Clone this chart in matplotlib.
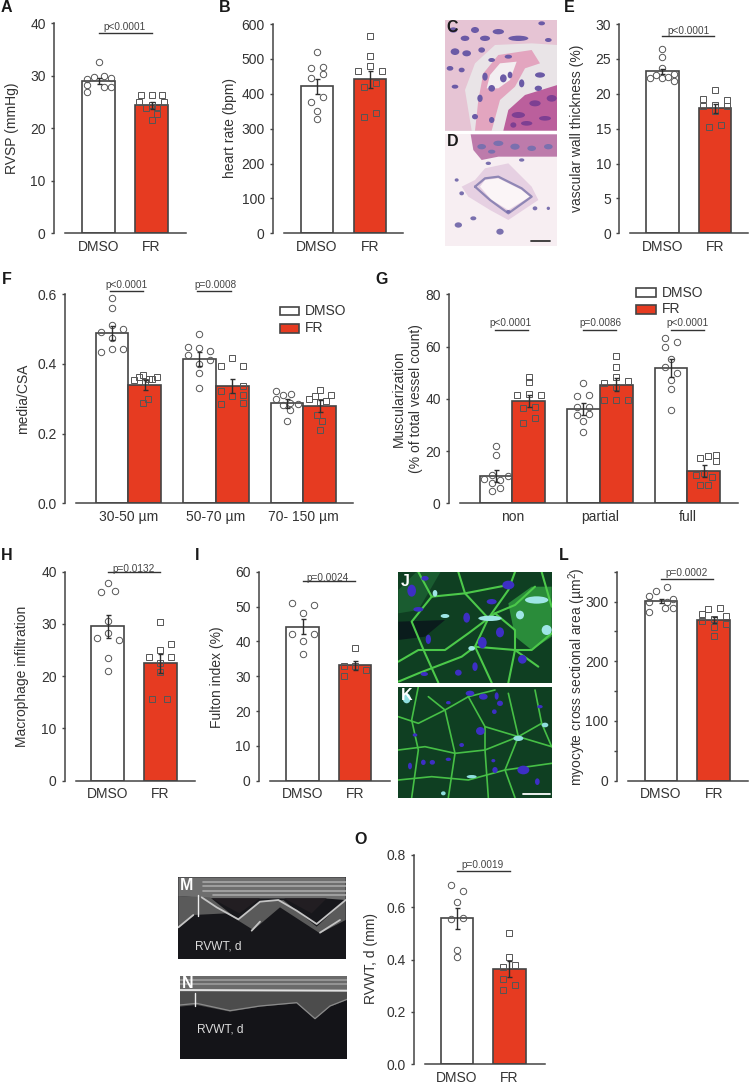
import numpy as np
import matplotlib
matplotlib.use("Agg")
from matplotlib import pyplot as plt
from matplotlib.patches import Rectangle, Ellipse, Polygon

plt.rcParams['font.family'] = ['Liberation Sans', 'DejaVu Sans']
plt.rcParams['mathtext.default'] = 'regular'

W, H = 750, 1082
RED = '#e63b21'
LINE = '#444444'
TXT = '#333333'

# panel A
a_means = [29.0, 24.4]
a_errs = [0.5, 0.7]
a_dmso = [32.6, 29.4, 29.7, 30.0, 29.5, 28.3, 27.8, 27.8, 27.0]
a_dmso_dx = [0, -12, -5, 5, 12, -12, 5, 12, -12]
a_fr = [26.4, 26.4, 26.3, 25.0, 25.0, 24.4, 24.1, 23.8, 22.8, 21.5]
a_fr_dx = [-11, 0, 10, -13, 12, 0, 5, -6, 5, 0]
# panel B
b_means = [421, 441]
b_errs = [22, 25]
b_dmso = [519, 475, 477, 456, 446, 390, 375, 350, 327]
b_dmso_dx = [0, -6, 6, 6, -6, 6, -6, 0, 0]
b_fr = [567, 509, 479, 464, 466, 418, 430, 332, 344]
b_fr_dx = [0, 0, 0, -12, 12, -6, 6, -6, 6]
# panel E
e_means = [23.2, 17.9]
e_errs = [0.4, 0.6]
e_dmso = [26.4, 25.2, 23.7, 22.2, 22.7, 22.3, 22.4, 22.9, 21.8]
e_dmso_dx = [0, 0, 0, -12, -6, 0, 6, 12, 12]
e_fr = [20.6, 19.3, 19.1, 18.4, 18.2, 18.2, 17.6, 15.5, 15.3]
e_fr_dx = [0, -12, 12, 0, -12, 12, 0, 6, -6]
# panel F
f_names = ['30-50 µm', '50-70 µm', '70- 150 µm']
f_dmso_means = [0.49, 0.415, 0.287]
f_dmso_errs = [0.02, 0.02, 0.012]
f_fr_means = [0.34, 0.336, 0.279]
f_fr_errs = [0.015, 0.02, 0.018]
f_dmso = [[.589, .562, .512, .491, .5, .474, .433, .444, .443],
          [.486, .449, .446, .438, .425, .411, .399, .374, .332],
          [.322, .312, .314, .3, .282, .286, .267, .237, .289]]
f_dmso_dx = [[0, 0, 0, -11, 11, 0, -11, 0, 11],
             [0, -11, 0, 11, -11, 11, 0, 0, 0],
             [-11, -4, 4, -11, -4, 11, 3, 0, 3]]
f_fr = [[.355, .364, .367, .356, .358, .362, .300, .287, .349],
        [.417, .395, .395, .337, .322, .307, .311, .284, .288],
        [.3, .308, .326, .311, .294, .253, .237, .209, .292]]
f_fr_dx = [[-11, -6, -2, 4, 7, 12, 3, -2, 0],
           [0, -11, 11, 11, -11, 0, 11, -11, 11],
           [-11, -5, 0, 11, 6, -3, 2, 0, 0]]
# panel G
g_names = ['non', 'partial', 'full']
g_dmso_means = [10.6, 36.2, 51.8]
g_dmso_errs = [2.3, 2.3, 3.3]
g_fr_means = [39.2, 45.4, 12.4]
g_fr_errs = [2.2, 2.4, 2.2]
g_dmso = [[22, 18.3, 9.4, 10.7, 10.3, 8.8, 7.8, 5.7, 4.7],
          [46.2, 40.9, 41.5, 36.7, 36.7, 33.9, 34, 31.6, 27.4],
          [63.2, 61.9, 59.7, 55.2, 52, 49.8, 47.1, 43.7, 35.9]]
g_dmso_dx = [[0, 0, -12, -4, 12, 4, -4, 4, -4],
             [0, -6, 6, -6, 6, -6, 6, 0, 0],
             [-6, 6, -6, 0, -6, 6, 0, 0, 0]]
g_fr = [[48.5, 46.4, 41.5, 41.8, 41.5, 36.3, 36.7, 32.5, 30.6],
        [56.2, 52, 48.2, 46.2, 47, 44.6, 39.4, 39.7, 39.4],
        [17.2, 18.2, 18.5, 16.1, 10.8, 11.5, 9.9, 7.1, 7.1]]
g_fr_dx = [[0, 0, -12, 0, 12, -6, 6, 6, -6],
           [0, 0, 0, -12, 12, 0, -12, 0, 12],
           [-4, 4, 12, 12, -8, 0, 8, -4, 4]]
# panel H
h_means = [29.6, 22.5]
h_errs = [2.2, 1.8]
h_dmso = [37.8, 36.2, 36.3, 30.5, 28.3, 27.3, 27, 23.5, 20.9]
h_dmso_dx = [0, -7, 7, 0, 0, -11, 11, 0, 0]
h_fr = [30.3, 26.2, 25.1, 23.7, 23.7, 22.6, 20.8, 15.6, 15.6]
h_fr_dx = [0, 11, 0, -11, 11, 0, 0, -8, 7]
# panel I
i_means = [44.2, 33.2]
i_errs = [2.2, 1.3]
i_dmso = [50.9, 50.4, 48.2, 42, 42, 40.2, 36.4]
i_dmso_dx = [-11, 11, 0, -11, 11, 0, 0]
i_fr = [38, 33, 33, 31.7, 30.2]
i_fr_dx = [0, -11, 0, 11, -11]
# panel L
l_means = [301, 269]
l_errs = [4, 5]
l_dmso = [324, 318, 309, 304, 299, 300, 290, 290, 283]
l_dmso_dx = [6, -5, -12, 12, -12, 6, 4, 12, -12]
l_fr = [288, 290, 279, 275, 267, 271, 262, 257, 242]
l_fr_dx = [-6, 6, -12, 12, -12, 0, 12, 0, 0]
# panel O
o_means = [0.559, 0.364]
o_errs = [0.04, 0.03]
o_dmso = [.686, .664, .622, .555, .559, .437, .409]
o_dmso_dx = [-6, 6, 0, -6, 6, 0, 0]
o_fr = [.501, .41, .381, .371, .325, .302, .284]
o_fr_dx = [0, 0, 6, -6, -6, 6, -6]

two_names = ['DMSO', 'FR']

fig = plt.figure(figsize=(W / 100, H / 100), dpi=100)
bg = fig.add_axes([0, 0, 1, 1])
bg.set_xlim(0, W)
bg.set_ylim(H, 0)
bg.axis('off')


def new_axes(box, ymax, ticks, labels, c0, spacing, names, gap=11, pad=4.5):
    x0, x1, y_top, y_zero = box
    ax = fig.add_axes([x0 / W, 1 - y_zero / H, (x1 - x0) / W, (y_zero - y_top) / H])
    ax.patch.set_visible(False)
    ax.set_xlim((x0 - c0) / spacing, (x1 - c0) / spacing)
    ax.set_ylim(0, ymax)
    for s in ['top', 'right']:
        ax.spines[s].set_visible(False)
    for s in ['left', 'bottom']:
        ax.spines[s].set_color(LINE)
        ax.spines[s].set_linewidth(1.1)
    ax.spines['bottom'].set_bounds((x0 + gap - c0) / spacing, (x1 - c0) / spacing)
    ax.set_yticks(ticks)
    ax.set_yticklabels(labels, fontsize=10, color=TXT)
    ax.tick_params(axis='y', length=2.5, width=1.0, color=LINE, pad=3.5)
    ax.set_xticks(np.arange(len(names)))
    ax.set_xticklabels(names, fontsize=10, color=TXT)
    ax.tick_params(axis='x', length=0, pad=pad)
    return ax


def draw_bar(ax, x, mean, err, pts, dx, color, marker, width, spacing):
    ax.bar(x, mean, width=width / spacing, color=color, edgecolor=LINE, linewidth=1.2, zorder=2)
    ax.plot(x + np.array(dx) / spacing, pts, linestyle='none', marker=marker,
            ms=4.6 if marker == 'o' else 4.3, mfc='none', mec='#555555', mew=0.7,
            clip_on=False, zorder=3)
    ax.errorbar(x, mean, yerr=err, color='#2e2e2e', elinewidth=1.0, capsize=1.8,
                capthick=1.0, zorder=4)


def pair_panel(box, ymax, ticks, labels, c0, spacing, means, errs, d, d_dx, f, f_dx):
    ax = new_axes(box, ymax, ticks, labels, c0, spacing, two_names)
    draw_bar(ax, 0, means[0], errs[0], d, d_dx, 'white', 'o', 32.7, spacing)
    draw_bar(ax, 1, means[1], errs[1], f, f_dx, RED, 's', 32.7, spacing)
    return ax


def group_panel(box, ymax, ticks, labels, c0, spacing, names, dm, de, fm, fe, d, d_dx, f, f_dx):
    ax = new_axes(box, ymax, ticks, labels, c0, spacing, names)
    off = 16.4 / spacing
    for k in range(len(names)):
        draw_bar(ax, k - off, dm[k], de[k], d[k], d_dx[k], 'white', 'o', 32.7, spacing)
        draw_bar(ax, k + off, fm[k], fe[k], f[k], f_dx[k], RED, 's', 32.7, spacing)
    return ax


def bracket(ax, x0, x1, y, text, tx, ty):
    ax.plot([x0, x1], [y, y], color='#333333', lw=1.0, clip_on=False, zorder=5)
    fig.text(tx / W, 1 - ty / H, text, fontsize=7.2, color='#444444', ha='center', va='center')


def label(x, y, text, rot=90, size=10, color=TXT, weight='normal', ha='center'):
    fig.text(x / W, 1 - y / H, text, fontsize=size, color=color, rotation=rot,
             ha=ha, va='center', fontweight=weight, zorder=10)


def letter(x, y, text, color='#1a1a1a'):
    label(x, y, text, rot=0, size=11.5, color=color, weight='bold', ha='left')


def photo(x0, x1, y0, y1, bgcolor, ox, oy):
    # shapes inside use zoomed crop pixels, 3x from crop origin ox, oy
    ax = fig.add_axes([x0 / W, 1 - y1 / H, (x1 - x0) / W, (y1 - y0) / H])
    ax.set_xlim((x0 - ox) * 3, (x1 - ox) * 3)
    ax.set_ylim((y1 - oy) * 3, (y0 - oy) * 3)
    ax.set_xticks([])
    ax.set_yticks([])
    for s in ax.spines.values():
        s.set_visible(False)
    ax.set_facecolor(bgcolor)
    return ax


def blobs(ax, items, color, zorder=3):
    for cx, cy, w, h in items:
        ax.add_patch(Ellipse((cx, cy), w, h, fc=color, ec='none', zorder=zorder))


def polylines(ax, lines, color, lw, zorder=2):
    for ln in lines:
        xy = np.array(ln)
        ax.plot(xy[:, 0], xy[:, 1], color=color, lw=lw, solid_capstyle='round', zorder=zorder)


def shape(ax, pts, color, zorder=1):
    ax.add_patch(Polygon(pts, fc=color, ec='none', zorder=zorder))


# bar panels
ax = pair_panel((54, 186, 23.3, 233.3), 40, [0, 10, 20, 30, 40], ['0', '10', '20', '30', '40'],
                98.5, 53, a_means, a_errs, a_dmso, a_dmso_dx, a_fr, a_fr_dx)
bracket(ax, 0, 1, 38.1, 'p<0.0001', 125, 27.3)

ax = pair_panel((273, 403, 24, 233.3), 600, [0, 100, 200, 300, 400, 500, 600],
                ['0', '100', '200', '300', '400', '500', '600'],
                317, 53, b_means, b_errs, b_dmso, b_dmso_dx, b_fr, b_fr_dx)

ax = pair_panel((619.3, 748, 24, 233.3), 30, [0, 5, 10, 15, 20, 25, 30],
                ['0', '5', '10', '15', '20', '25', '30'],
                662.3, 52.7, e_means, e_errs, e_dmso, e_dmso_dx, e_fr, e_fr_dx)
bracket(ax, 0, 0.98, 28.3, 'p<0.0001', 688.3, 30.7)

ax = group_panel((65, 353, 294.3, 503.3), 0.6, [0, 0.2, 0.4, 0.6], ['0.0', '0.2', '0.4', '0.6'],
                 128.3, 87.5, f_names, f_dmso_means, f_dmso_errs, f_fr_means, f_fr_errs,
                 f_dmso, f_dmso_dx, f_fr, f_fr_dx)
bracket(ax, -0.21, 0.17, 0.6105, 'p<0.0001', 127, 284.7)
bracket(ax, 0.79, 1.17, 0.6105, 'p=0.0008', 215, 284.7)

ax = group_panel((449, 737.7, 294.3, 503.3), 80, [0, 20, 40, 60, 80], ['0', '20', '40', '60', '80'],
                 512.3, 87.5, g_names, g_dmso_means, g_dmso_errs, g_fr_means, g_fr_errs,
                 g_dmso, g_dmso_dx, g_fr, g_fr_dx)
bracket(ax, -0.2, 0.18, 66.2, 'p<0.0001', 511, 323.3)
bracket(ax, 0.81, 1.19, 66.2, 'p=0.0086', 600, 323.3)
bracket(ax, 1.81, 2.19, 66.2, 'p<0.0001', 687.7, 323.3)

ax = pair_panel((65, 195, 571.7, 780.7), 40, [0, 10, 20, 30, 40], ['0', '10', '20', '30', '40'],
                107.7, 52.7, h_means, h_errs, h_dmso, h_dmso_dx, h_fr, h_fr_dx)
bracket(ax, 0, 1, 39.9, 'p=0.0132', 133.7, 569.3)

ax = pair_panel((259, 390, 571.7, 780.7), 60, [0, 10, 20, 30, 40, 50, 60],
                ['0', '10', '20', '30', '40', '50', '60'],
                302.7, 52.3, i_means, i_errs, i_dmso, i_dmso_dx, i_fr, i_fr_dx)
bracket(ax, 0, 1, 57.2, 'p=0.0024', 328, 578.3)

ax = pair_panel((616.7, 747.7, 571.7, 780.7), 350, [0, 50, 100, 150, 200, 250, 300, 350],
                ['0', '', '100', '', '200', '', '300', ''],
                661, 52.7, l_means, l_errs, l_dmso, l_dmso_dx, l_fr, l_fr_dx)
bracket(ax, 0, 0.99, 338, 'p=0.0002', 686.7, 573)

ax = pair_panel((414, 545, 855, 1064.3), 0.8, [0, 0.2, 0.4, 0.6, 0.8], ['0.0', '0.2', '0.4', '0.6', '0.8'],
                457, 52.3, o_means, o_errs, o_dmso, o_dmso_dx, o_fr, o_fr_dx)
bracket(ax, 0, 1.01, 0.738, 'p=0.0019', 482.7, 865.3)

# y labels
label(11.7, 128, 'RVSP (mmHg)')
label(230, 128, 'heart rate (bpm)')
label(576.7, 128, 'vascular wall thickness (%)')
label(23, 399, 'media/CSA')
label(399, 399, 'Muscularization')
label(415.7, 399, '(% of total vessel count)')
label(21.7, 676.7, 'Macrophage infiltration')
label(216.7, 676.7, 'Fulton index (%)')
label(576.7, 676.7, 'myocyte cross sectional area (µm$^2$)')
label(370.7, 959, 'RVWT, d (mm)')

# legends
for lx, ly, name, col in [(279.5, 306.7, 'DMSO', 'white'), (279.5, 324, 'FR', RED),
                          (636, 288.3, 'DMSO', 'white'), (636, 305, 'FR', RED)]:
    bg.add_patch(Rectangle((lx, ly), 19.8, 8.6, fc=col, ec=LINE, lw=1.2))
    label(lx + 25.8, ly + 4.3, name, rot=0, ha='left')

# photo C, histology
p = photo(445, 557, 20, 131, '#e9e4e7', 375, 0)
shape(p, [(210, 60), (547, 60), (547, 135), (470, 130), (360, 135), (300, 190), (270, 270), (290, 392), (210, 392)], '#e6c4d4')
shape(p, [(300, 392), (310, 300), (325, 220), (370, 165), (470, 150), (495, 190), (450, 205), (420, 260), (375, 300), (350, 392)], '#e3a5bf')
shape(p, [(335, 265), (345, 225), (375, 190), (425, 185), (405, 240), (370, 265)], '#f3eef1', zorder=2)
shape(p, [(385, 392), (400, 330), (450, 285), (547, 255), (547, 392)], '#bb5f9c', zorder=2)
blobs(p, [(235, 90, 24, 16), (270, 115, 26, 16), (300, 90, 24, 18), (330, 115, 30, 16), (370, 95, 34, 16),
          (240, 155, 26, 20), (275, 160, 26, 18), (320, 150, 20, 16), (225, 205, 20, 14), (260, 210, 18, 14),
          (240, 260, 20, 12), (430, 115, 60, 16), (500, 70, 20, 12), (520, 120, 20, 12), (350, 180, 20, 12),
          (400, 170, 22, 12), (330, 230, 16, 24), (350, 265, 20, 20), (315, 295, 16, 22), (385, 235, 20, 24),
          (405, 225, 14, 20), (300, 350, 18, 16), (350, 360, 16, 18), (495, 225, 30, 16), (490, 265, 22, 16),
          (440, 250, 16, 24)], '#6b5aa6', zorder=3)
blobs(p, [(430, 345, 40, 18), (480, 310, 34, 18), (530, 295, 30, 20), (455, 370, 34, 14), (510, 355, 36, 14), (415, 375, 18, 16)],
      '#7d3f92', zorder=3)

# photo D
p = photo(445, 557, 134, 246, '#f7eef2', 375, 0)
shape(p, [(287, 403), (547, 403), (547, 470), (450, 470), (370, 470), (320, 480), (295, 450)], '#bd7bab')
shape(p, [(300, 540), (330, 505), (400, 490), (470, 560), (490, 600), (400, 660), (345, 630), (280, 590), (260, 560)], '#e6d0e2')
shape(p, [(315, 560), (330, 540), (370, 535), (440, 570), (465, 590), (400, 630), (350, 600)], '#fbf5f7', zorder=2)
polylines(p, [[(300, 560), (330, 535), (370, 530), (440, 565), (470, 590), (400, 640), (345, 600), (300, 560)]], '#8f86b5', 1.6)
blobs(p, [(320, 440, 26, 16), (370, 430, 30, 16), (420, 440, 28, 18), (470, 445, 26, 16), (520, 440, 26, 16), (350, 455, 22, 12),
          (340, 490, 16, 10), (440, 480, 16, 10), (260, 580, 14, 12), (245, 540, 12, 10), (480, 625, 14, 12),
          (295, 655, 18, 12), (250, 675, 22, 16), (375, 695, 22, 18), (520, 625, 10, 10), (400, 635, 14, 10)], '#7a70ae', zorder=3)
polylines(p, [[(468, 722), (525, 722)]], '#333333', 1.3, zorder=4)

# photo J, fluorescence
p = photo(398, 552, 572, 683, '#0f3f22', 375, 550)
shape(p, [(400, 160), (470, 110), (530, 110), (530, 260), (470, 300), (420, 260)], '#2a8c3a')
shape(p, [(70, 215), (210, 210), (150, 260), (70, 270)], '#0a1c1c')
shape(p, [(70, 120), (130, 60), (200, 60), (130, 180), (70, 190)], '#1a5c30')
j_lines = [[(70, 335), (130, 300), (210, 300), (280, 250), (360, 190), (420, 165), (480, 110)],
           [(130, 66), (170, 140), (110, 215), (150, 310), (190, 398)],
           [(250, 66), (270, 130), (340, 205), (300, 290), (350, 398)],
           [(70, 395), (130, 370), (260, 320), (300, 290), (420, 300), (490, 350)],
           [(420, 66), (400, 120), (340, 205)], [(170, 140), (270, 130), (400, 105)],
           [(420, 300), (470, 300), (530, 250)], [(500, 66), (530, 170)], [(360, 190), (420, 240), (420, 300), (400, 398)]]
polylines(p, j_lines, '#4cc94a', 1.5)
blobs(p, [(110, 122, 26, 36), (150, 85, 22, 14), (400, 105, 36, 26), (350, 155, 30, 16), (130, 178, 30, 14), (275, 203, 20, 30),
          (375, 247, 24, 30), (160, 268, 16, 28), (322, 278, 26, 34), (442, 328, 26, 26), (250, 368, 20, 18),
          (148, 372, 22, 12), (300, 350, 16, 26)], '#3d2fc4', zorder=3)
blobs(p, [(210, 198, 26, 12), (345, 205, 70, 16), (290, 295, 20, 14), (485, 150, 70, 22), (515, 240, 30, 30), (435, 195, 24, 26), (180, 130, 14, 20)],
      '#9fe6e6', zorder=3)

# photo K
p = photo(398, 552, 687, 798, '#0f3f22', 375, 550)
k_lines = [[(70, 500), (130, 520), (210, 480), (280, 440), (360, 420)],
           [(70, 600), (150, 590), (240, 610), (330, 600), (430, 560), (530, 590)],
           [(70, 690), (170, 680), (280, 690), (390, 660), (530, 640)],
           [(130, 410), (110, 510), (130, 600), (110, 743)], [(210, 480), (240, 610), (220, 743)],
           [(280, 440), (330, 530), (330, 600), (340, 743)], [(400, 430), (430, 560), (390, 660), (420, 743)],
           [(480, 420), (500, 520), (530, 590)], [(330, 530), (430, 560)], [(160, 440), (210, 480)], [(430, 560), (500, 520)]]
polylines(p, k_lines, '#46bf46', 1.2)
blobs(p, [(285, 430, 26, 16), (325, 440, 26, 18), (375, 460, 18, 16), (365, 438, 12, 22), (220, 458, 14, 10), (358, 485, 14, 14),
          (495, 470, 16, 10), (316, 543, 26, 24), (120, 555, 14, 10), (260, 585, 14, 12), (145, 637, 14, 16), (172, 637, 16, 14),
          (220, 628, 16, 10), (105, 648, 12, 20), (360, 660, 16, 18), (445, 660, 36, 26), (487, 695, 14, 20), (355, 632, 12, 10)],
      '#3d2fc4', zorder=3)
blobs(p, [(430, 565, 30, 16), (510, 525, 20, 14), (290, 680, 30, 10), (205, 730, 14, 12), (95, 445, 24, 30)], '#8fdede', zorder=3)
polylines(p, [[(445, 733), (525, 733)]], 'white', 1.3, zorder=4)

# photo M, echo trace
p = photo(178, 346, 877, 959, '#17171b', 160, 820)
shape(p, [(55, 172), (557, 172), (557, 240), (490, 235), (370, 235), (300, 235), (150, 235), (55, 228)], '#6e6e6e')
shape(p, [(55, 228), (150, 232), (235, 300), (300, 245), (370, 240), (470, 320), (557, 240), (557, 300), (480, 340), (360, 262), (280, 330), (200, 280), (100, 285), (55, 325)], '#5a5a5a')
shape(p, [(155, 235), (300, 235), (238, 280)], '#221e22', zorder=2)
shape(p, [(372, 235), (500, 235), (455, 280)], '#221e22', zorder=2)
polylines(p, [[(130, 185), (557, 185)], [(130, 198), (557, 198)], [(130, 212), (557, 212)], [(160, 226), (557, 226)]], '#a8a8a8', 1.2)
polylines(p, [[(125, 232), (170, 262), (235, 298), (300, 245), (355, 240), (410, 272), (470, 312), (557, 240)],
              [(55, 322), (100, 285)], [(275, 332), (300, 305)], [(480, 338), (540, 300)]], '#c4c4c4', 1.3)
polylines(p, [[(113, 225), (113, 287)]], '#eeeeee', 1.0, zorder=4)
label(160 + 175 / 3, 820 + 380 / 3, 'RVWT, d', rot=0, size=8.6, color='#dddddd')

# photo N
p = photo(180, 347, 976, 1059, '#141418', 160, 820)
shape(p, [(59, 467), (561, 467), (561, 520), (59, 520)], '#6a6a6a')
shape(p, [(59, 515), (561, 515), (561, 540), (510, 560), (465, 598), (410, 550), (300, 560), (210, 575), (110, 555), (59, 560)], '#4c4c4c')
polylines(p, [[(59, 480), (561, 480)], [(59, 492), (561, 492)]], '#a0a0a0', 1.1)
polylines(p, [[(59, 510), (561, 512)]], '#e0e0e0', 1.4)
polylines(p, [[(59, 555), (110, 550), (210, 572), (300, 558), (410, 548), (465, 596), (510, 558), (561, 538)]], '#8a8a8a', 0.9)
polylines(p, [[(105, 518), (105, 558)]], '#eeeeee', 1.0, zorder=4)
label(160 + 181 / 3, 820 + 628 / 3, 'RVWT, d', rot=0, size=8.6, color='#dddddd')

# panel letters
for lx, ly, s in [(1, 7, 'A'), (219, 7, 'B'), (564, 7, 'E'), (2, 279, 'F'), (375, 279, 'G'),
                  (1, 556, 'H'), (195, 556, 'I'), (559, 556, 'L'), (354, 839, 'O')]:
    letter(lx, ly, s)
letter(446, 27, 'C')
letter(447, 142, 'D')
letter(401, 581, 'J', color='white')
letter(401, 696, 'K', color='white')
letter(180, 886, 'M', color='white')
letter(182, 984, 'N', color='white')

fig.savefig('out.png', dpi=100)
